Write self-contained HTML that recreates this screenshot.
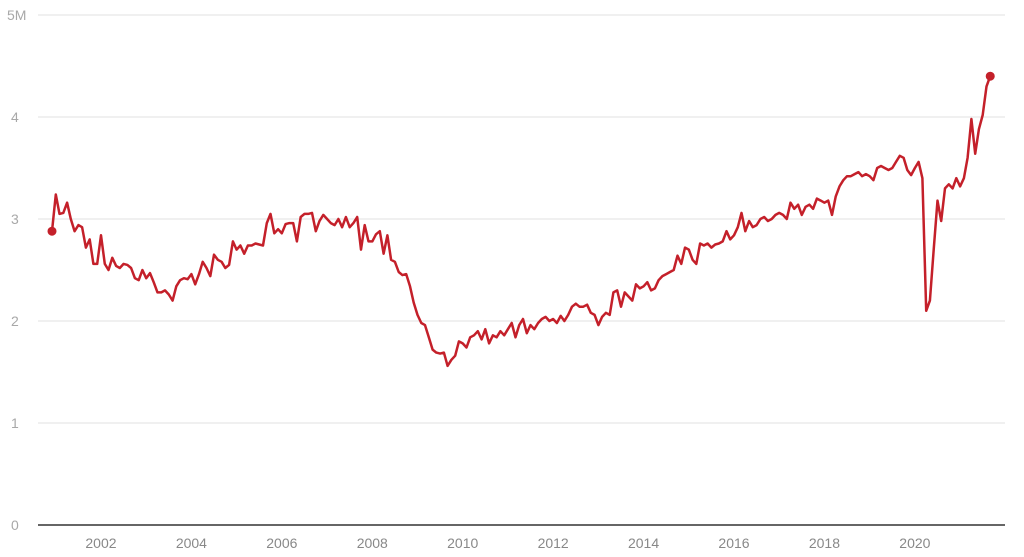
<!DOCTYPE html>
<html><head><meta charset="utf-8"><style>
body{margin:0;background:#fff;}
svg{display:block;font-family:"Liberation Sans",sans-serif;}
</style></head><body>
<svg id="chart" width="1024" height="557" viewBox="0 0 1024 557">
<g id="grid"></g>
<g id="yticks"></g>
<g id="xticks"></g>
<g id="series"></g>
</svg>
<script>
const startYear = 2000, startMonth = 11; // Dec 2000
const yTicks = [0,1,2,3,4,5];
const yTickLabels = ["0","1","2","3","4","5M"];
const xTickYears = [2002,2004,2006,2008,2010,2012,2014,2016,2018,2020];
const values = [2.88,
3.24,3.05,3.06,3.16,3.00,2.88,2.94,2.92,2.72,2.80,2.56,2.56,
2.84,2.56,2.50,2.62,2.54,2.52,2.56,2.55,2.52,2.42,2.40,2.50,
2.42,2.47,2.38,2.28,2.28,2.30,2.26,2.20,2.34,2.40,2.42,2.41,
2.46,2.36,2.46,2.58,2.52,2.44,2.65,2.60,2.58,2.52,2.55,2.78,
2.70,2.74,2.66,2.74,2.74,2.76,2.75,2.74,2.96,3.05,2.86,2.90,
2.86,2.95,2.96,2.96,2.78,3.02,3.05,3.05,3.06,2.88,2.98,3.04,
3.00,2.96,2.94,3.00,2.92,3.02,2.92,2.96,3.02,2.70,2.94,2.78,
2.78,2.85,2.88,2.66,2.84,2.60,2.58,2.48,2.45,2.46,2.34,2.18,
2.06,1.98,1.96,1.84,1.72,1.69,1.68,1.69,1.56,1.62,1.66,1.80,
1.78,1.74,1.84,1.86,1.90,1.82,1.92,1.78,1.86,1.84,1.90,1.86,
1.92,1.98,1.84,1.96,2.02,1.88,1.96,1.92,1.98,2.02,2.04,2.00,
2.02,1.98,2.05,2.00,2.06,2.14,2.17,2.14,2.14,2.16,2.08,2.06,
1.96,2.04,2.08,2.06,2.28,2.30,2.14,2.28,2.24,2.20,2.36,2.32,
2.34,2.38,2.30,2.32,2.40,2.44,2.46,2.48,2.50,2.64,2.56,2.72,
2.70,2.60,2.56,2.76,2.74,2.76,2.72,2.75,2.76,2.78,2.88,2.80,
2.84,2.92,3.06,2.88,2.98,2.92,2.94,3.00,3.02,2.98,3.00,3.04,
3.06,3.04,3.00,3.16,3.10,3.14,3.04,3.12,3.14,3.10,3.20,3.18,
3.16,3.18,3.04,3.22,3.32,3.38,3.42,3.42,3.44,3.46,3.42,3.44,
3.42,3.38,3.50,3.52,3.50,3.48,3.50,3.56,3.62,3.60,3.48,3.43,
3.50,3.56,3.40,2.10,2.20,2.70,3.18,2.98,3.30,3.34,3.30,3.40,
3.32,3.40,3.60,3.98,3.64,3.88,4.02,4.30,4.40];

const NS="http://www.w3.org/2000/svg";
const x0=52, mPx=3.768, yBase=525, yPx=102;
function xScale(monthIdx){return x0+monthIdx*mPx;}
function yScale(v){return yBase-v*yPx;}
function mk(tag,attrs,parent){const e=document.createElementNS(NS,tag);for(const k in attrs)e.setAttribute(k,attrs[k]);parent.appendChild(e);return e;}

const grid=document.getElementById('grid'), yt=document.getElementById('yticks'), xt=document.getElementById('xticks'), ser=document.getElementById('series');
yTicks.forEach((t,i)=>{
  if(t>0){
    const l=mk('line',{x1:38,x2:1005,y1:yScale(t),y2:yScale(t),stroke:'#e2e2e2','stroke-width':1},grid);
    
    
  }
  const tx=mk('text',{x:t===5?7:11,y:yScale(t)+5,'font-size':14,fill:'#a8a8a8'},yt);
  tx.textContent=yTickLabels[i];
  
  
});
const ax=mk('line',{x1:38,x2:1005,y1:yBase,y2:yBase,stroke:'#333','stroke-width':1.5},xt);


xTickYears.forEach(yr=>{
  const idx=(yr-startYear)*12-startMonth;
  const x=xScale(idx);
  const tx=mk('text',{x:x,y:548,'font-size':14,fill:'#888','text-anchor':'middle'},xt);
  tx.textContent=String(yr);
  
  
});
const pts=values.map((v,i)=>xScale(i).toFixed(1)+','+yScale(v).toFixed(1)).join(' ');
const pl=mk('polyline',{points:pts,fill:'none',stroke:'#c4202a','stroke-width':2.5,'stroke-linejoin':'round'},ser);


[0,values.length-1].forEach(i=>{
  const c=mk('circle',{cx:xScale(i),cy:yScale(values[i]),r:4.5,fill:'#c4202a'},ser);
  
  
});
</script>
</body></html>
